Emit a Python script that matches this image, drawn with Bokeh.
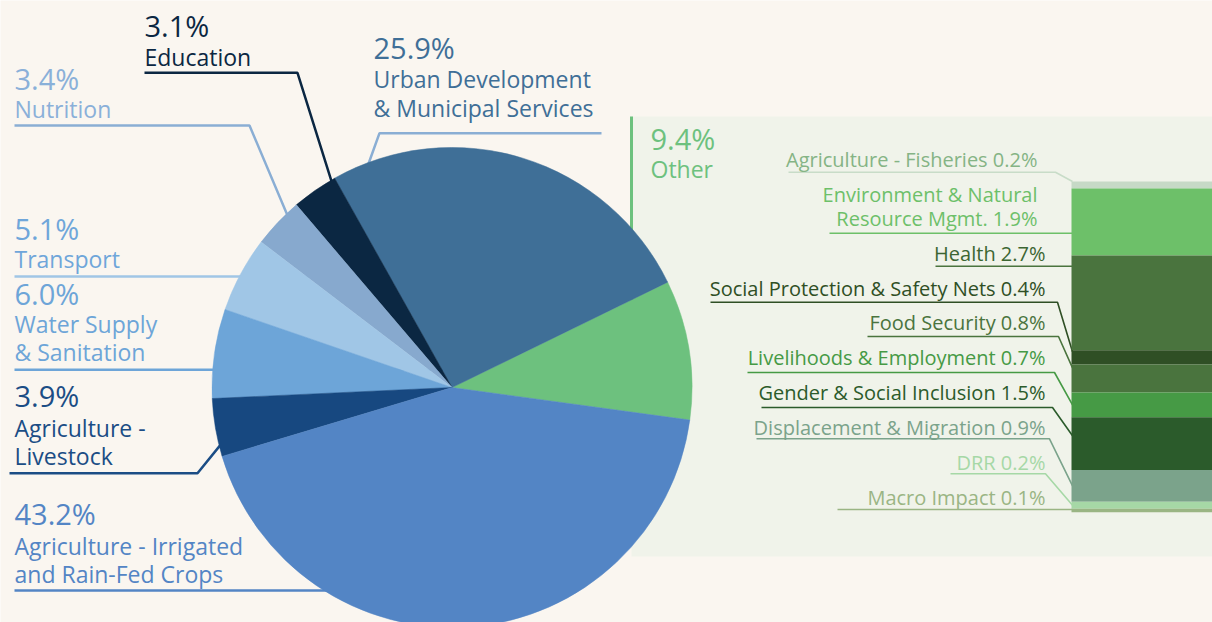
import numpy as np
from bokeh.plotting import figure
from bokeh.models import Range1d, ColumnDataSource
from bokeh.embed import file_html
from bokeh.resources import INLINE
from bokeh.core.properties import value

# ---------------- data ----------------
pie_sectors = ["Other", "Urban Development & Municipal Services", "Education",
               "Nutrition", "Transport", "Water Supply & Sanitation",
               "Agriculture - Livestock", "Agriculture - Irrigated and Rain-Fed Crops"]
pie_shares = [9.4, 25.9, 3.1, 3.4, 5.1, 6.0, 3.9, 43.2]
pie_label_lines = [["Other"], ["Urban Development", "& Municipal Services"], ["Education"],
                   ["Nutrition"], ["Transport"], ["Water Supply", "& Sanitation"],
                   ["Agriculture -", "Livestock"], ["Agriculture - Irrigated", "and Rain-Fed Crops"]]
pie_colors = ["#6DC17E", "#3F6F97", "#0B2742", "#87A9CE", "#A0C6E6", "#6DA5D8", "#174880", "#5385C5"]
pie_text_colors = ["#6DC17E", "#3F6F97", "#0B2742", "#8AB0D9", "#6FA6DA", "#6DA5D8", "#1B4D85", "#5385C5"]
pie_line_colors = ["#6DC17E", "#8AAED4", "#0B2742", "#8AAED4", "#A0C6E6", "#6DA5D8", "#1B4D85", "#5385C5"]

other_sectors = ["Agriculture - Fisheries", "Environment & Natural Resource Mgmt.", "Health",
                 "Social Protection & Safety Nets", "Food Security", "Livelihoods & Employment",
                 "Gender & Social Inclusion", "Displacement & Migration", "DRR", "Macro Impact"]
other_label_lines = [["Agriculture - Fisheries"], ["Environment & Natural", "Resource Mgmt."], ["Health"],
                     ["Social Protection & Safety Nets"], ["Food Security"], ["Livelihoods & Employment"],
                     ["Gender & Social Inclusion"], ["Displacement & Migration"], ["DRR"], ["Macro Impact"]]
other_shares = [0.2, 1.9, 2.7, 0.4, 0.8, 0.7, 1.5, 0.9, 0.2, 0.1]
other_colors = ["#C6D9C6", "#6DC069", "#4A743E", "#2F4F25", "#4A743E", "#469A45",
                "#2B5B2B", "#7BA38B", "#A6D8A6", "#9AB584"]
other_text_colors = ["#85B485", "#6DC069", "#3C6632", "#2F4F25", "#4A743E", "#469A45",
                     "#2B5B2B", "#7BA38B", "#A6D8A6", "#9AB584"]
other_line_colors = ["#C8DCC8", "#6DC069", "#4A743E", "#2F4F25", "#4A743E", "#469A45",
                     "#2B5B2B", "#7BA38B", "#A6D8A6", "#9AB584"]

# ---------------- layout ----------------
BG = "#FAF6F0"
PANEL = "#F0F3EA"
FONT = value("Open Sans")
W, H = 1212, 622
CX, CY, R = 451.5, 387.0, 240.0          # pie centre / radius in page pixels
START_DEG = -7.8
BAR_LEFT, BAR_TOP, BAR_LEN = 1071.0, 181.0, 330.7
PCT_SIZE, NAME_SIZE, SUB_SIZE = 29, 23, 20
BASE_FIX = 0.43   # compensation of rendered baseline offset (fraction of font size)


def Y(ry):
    return H - ry


# left labels: x, pct baseline, name baselines, underline y, far x, elbow x, attach fraction (None = horizontal)
pie_layout = [
    None,
    dict(x=373, pct=59, names=[88, 117], ul=132.7, far=601, elbow=379, attach=0.905),
    dict(x=144, pct=37, names=[66], ul=72.3, far=144, elbow=297, attach=0.09),
    dict(x=14, pct=90, names=[118], ul=125, far=14, elbow=249, attach=0.26),
    dict(x=14, pct=240, names=[268], ul=276, far=14, elbow=None, attach=None),
    dict(x=14, pct=305, names=[333, 361], ul=369.3, far=14, elbow=None, attach=None),
    dict(x=14, pct=407, names=[437, 465], ul=472.7, far=9, elbow=197, attach=0.81),
    dict(x=14, pct=525, names=[555, 583], ul=590, far=14, elbow=None, attach=None),
]

# right labels: right edge, baselines, underline y, underline start x, elbow x, attach fraction
other_layout = [
    dict(right=1037, names=[168], ul=171.7, x0=788, elbow=1055, attach=0.0),
    dict(right=1037, names=[203, 227], ul=232.7, x0=829, elbow=None, attach=None),
    dict(right=1045, names=[262], ul=265.7, x0=935, elbow=None, attach=None),
    dict(right=1045, names=[297], ul=301.7, x0=710, elbow=1057, attach=0.1),
    dict(right=1045, names=[331], ul=336.0, x0=867, elbow=1058, attach=0.12),
    dict(right=1045, names=[366], ul=372.0, x0=747, elbow=1054, attach=0.5),
    dict(right=1045, names=[401], ul=407.0, x0=761, elbow=1052, attach=0.35),
    dict(right=1045, names=[436], ul=438.3, x0=756, elbow=1049, attach=0.5),
    dict(right=1045, names=[471], ul=473.3, x0=950, elbow=1045, attach=0.5),
    dict(right=1045, names=[506], ul=509.0, x0=837, elbow=None, attach=None),
]

# ---------------- figure ----------------
p = figure(width=W, height=H, x_range=Range1d(0, W), y_range=Range1d(0, H),
           output_backend="svg", toolbar_location=None, min_border=0,
           x_axis_location=None, y_axis_location=None)
p.grid.visible = False
p.outline_line_color = None
p.background_fill_color = BG
p.border_fill_color = BG

# "Other" panel
p.quad(left=631, right=W + 10, top=Y(116), bottom=Y(556), fill_color=PANEL, line_color=None)

# pie angles
shares = np.array(pie_shares)
edges = np.deg2rad(START_DEG) + np.concatenate([[0], np.cumsum(shares)]) / shares.sum() * 2 * np.pi
starts, ends = edges[:-1], edges[1:]

# leader lines
xs, ys, lc, lw = [], [], [], []
xs.append([631, 631]); ys.append([Y(116), Y(300)]); lc.append(pie_line_colors[0]); lw.append(3)
for i, lay in enumerate(pie_layout):
    if lay is None:
        continue
    if lay["attach"] is None:
        px = [lay["far"], CX]
        py = [lay["ul"], lay["ul"]]
    else:
        a = starts[i] + lay["attach"] * (ends[i] - starts[i])
        ex, ey = CX + (R - 1) * np.cos(a), CY - (R - 1) * np.sin(a)
        px = [lay["far"], lay["elbow"], ex]
        py = [lay["ul"], lay["ul"], ey]
    xs.append(px); ys.append([Y(v) for v in py]); lc.append(pie_line_colors[i]); lw.append(2.5)

oshares = np.array(other_shares)
ocum = np.concatenate([[0], np.cumsum(oshares)])
kpx = BAR_LEN / oshares.sum()
for i, lay in enumerate(other_layout):
    if lay["attach"] is None:
        px = [lay["x0"], BAR_LEFT + 1]
        py = [lay["ul"], lay["ul"]]
    else:
        ty = BAR_TOP + (ocum[i] + lay["attach"] * oshares[i]) * kpx
        px = [lay["x0"], lay["elbow"], BAR_LEFT + 1]
        py = [lay["ul"], lay["ul"], ty]
    xs.append(px); ys.append([Y(v) for v in py]); lc.append(other_line_colors[i]); lw.append(1.6)

p.multi_line(xs="xs", ys="ys", line_color="c", line_width="w",
             source=ColumnDataSource(dict(xs=xs, ys=ys, c=lc, w=lw)))

# pie
p.wedge(x=CX, y=Y(CY), radius=R, start_angle="s", end_angle="e", direction="anticlock",
        fill_color="c", line_color="c", line_width=0.5,
        source=ColumnDataSource(dict(s=starts, e=ends, c=pie_colors)))

# stacked bar of "Other" breakdown
p.extra_y_ranges = {"other": Range1d(start=(H - BAR_TOP) / kpx, end=(0 - BAR_TOP) / kpx)}
p.quad(left=BAR_LEFT, right=W + 10, top="t", bottom="b", fill_color="c", line_color=None,
       y_range_name="other",
       source=ColumnDataSource(dict(t=ocum[:-1], b=ocum[1:], c=other_colors)))

# texts
lt = dict(x=[], y=[], t=[], c=[], s=[])
def add(d, x, y, t, c, s):
    d["x"].append(x); d["y"].append(Y(y - BASE_FIX * s)); d["t"].append(t); d["c"].append(c)
    d["s"].append(f"{s}px")

add(lt, 650, 150, f"{pie_shares[0]:.1f}%", pie_text_colors[0], PCT_SIZE)
add(lt, 650, 178, pie_label_lines[0][0], pie_text_colors[0], NAME_SIZE)
for i, lay in enumerate(pie_layout):
    if lay is None:
        continue
    add(lt, lay["x"], lay["pct"], f"{pie_shares[i]:.1f}%", pie_text_colors[i], PCT_SIZE)
    for line, bl in zip(pie_label_lines[i], lay["names"]):
        add(lt, lay["x"], bl, line, pie_text_colors[i], NAME_SIZE)

p.text(x="x", y="y", text="t", text_color="c", text_font_size="s", text_font=FONT,
       text_align="left", text_baseline="alphabetic", source=ColumnDataSource(lt))

rt = dict(x=[], y=[], t=[], c=[], s=[])
for i, lay in enumerate(other_layout):
    lines = list(other_label_lines[i])
    lines[-1] = f"{lines[-1]} {other_shares[i]:.1f}%"
    for line, bl in zip(lines, lay["names"]):
        add(rt, lay["right"], bl, line, other_text_colors[i], SUB_SIZE)

p.text(x="x", y="y", text="t", text_color="c", text_font_size="s", text_font=FONT,
       text_align="right", text_baseline="alphabetic", source=ColumnDataSource(rt))

open("out.html", "w").write(file_html(p, INLINE))
